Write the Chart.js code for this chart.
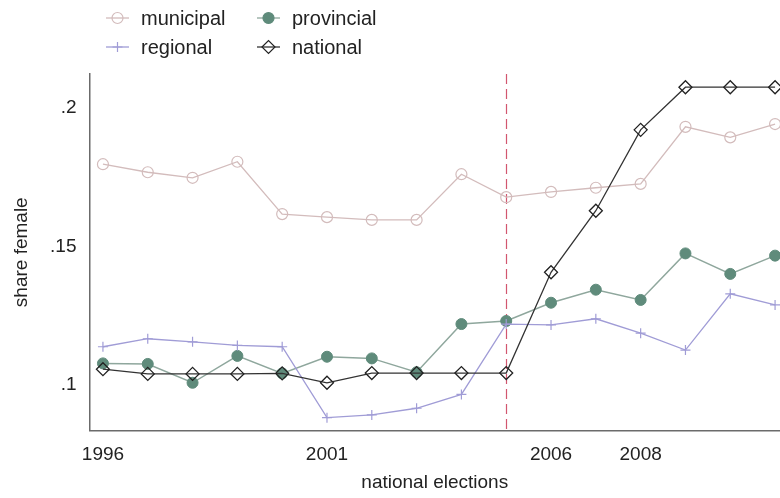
<!DOCTYPE html>
<html>
<head>
<meta charset="utf-8">
<title>share female</title>
<script src="https://cdn.jsdelivr.net/npm/chart.js@4.4.1/dist/chart.umd.min.js"></script>
<style>
  body { margin: 0; background: #fff; }
  #wrap { width: 780px; height: 498px; }
</style>
</head>
<body>
<div id="wrap"><canvas id="shareChart" width="780" height="498"></canvas></div>
<script>
const years = [1996, 1997, 1998, 1999, 2000, 2001, 2002, 2003, 2004, 2005, 2006, 2007, 2008, 2009, 2010, 2011];
const electionYears = [1996, 2001, 2006, 2008];
const yTicks = [0.1, 0.15, 0.2];
const cutoffYear = 2005;

const municipal = [0.1797, 0.1768, 0.1748, 0.1806, 0.1617, 0.1606, 0.1596, 0.1596, 0.1761, 0.1678, 0.1697, 0.1712, 0.1726, 0.1932, 0.1894, 0.1942];
const provincial = [0.1078, 0.1076, 0.1008, 0.1105, 0.1042, 0.1102, 0.1096, 0.1046, 0.1220, 0.1231, 0.1297, 0.1344, 0.1307, 0.1475, 0.1401, 0.1467];
const regional = [0.1138, 0.1167, 0.1156, 0.1143, 0.1138, 0.0882, 0.0892, 0.0916, 0.0966, 0.1220, 0.1217, 0.1239, 0.1187, 0.1126, 0.1329, 0.1289];
const national = [0.1057, 0.1040, 0.1040, 0.1040, 0.1042, 0.1008, 0.1043, 0.1043, 0.1043, 0.1043, 0.1407, 0.1629, 0.1921, 0.2075, 0.2075, 0.2075];

const FONT = "'Liberation Sans', Arial, Helvetica, sans-serif";

function toPoints(values) {
    return values.map((v, i) => ({ x: years[i], y: v }));
}

// legend entries in the two-column layout (row-major)
const legendItems = [
    { label: "municipal",  color: "#d3bcbc", line: "#d3bcbc", style: "circle",  radius: 5.5, fill: "rgba(0,0,0,0)", col: 0, row: 0 },
    { label: "provincial", color: "#5f8b7b", line: "#8fa79d", style: "circle",  radius: 5.5, fill: "#5f8b7b",       col: 1, row: 0 },
    { label: "regional",   color: "#a09cd6", line: "#a09cd6", style: "cross",   radius: 5,   fill: "rgba(0,0,0,0)", col: 0, row: 1 },
    { label: "national",   color: "#222222", line: "#333333", style: "rectRot", radius: 6.5, fill: "rgba(0,0,0,0)", col: 1, row: 1 }
];

const twoColLegend = {
    id: 'twoColLegend',
    afterDraw(chart) {
        const ctx = chart.ctx;
        const colX = [106, 257];
        const rowY = [18, 47];
        ctx.save();
        legendItems.forEach(item => {
            const x0 = colX[item.col];
            const y = rowY[item.row];
            ctx.strokeStyle = item.line;
            ctx.lineWidth = 1.3;
            ctx.beginPath();
            ctx.moveTo(x0, y);
            ctx.lineTo(x0 + 23, y);
            ctx.stroke();
            ctx.strokeStyle = item.color;
            ctx.fillStyle = item.fill;
            ctx.lineWidth = 1.2;
            Chart.helpers.drawPoint(ctx, { pointStyle: item.style, radius: item.radius, rotation: 0, borderWidth: 1.2 }, x0 + 11.5, y);
            ctx.fillStyle = "#222";
            ctx.font = "20px " + FONT;
            ctx.textBaseline = "middle";
            ctx.textAlign = "left";
            ctx.fillText(item.label, x0 + 35, y + 1);
        });
        ctx.restore();
    }
};

// dashed vertical reference line
const cutoffLine = {
    id: 'cutoffLine',
    beforeDatasetsDraw(chart) {
        const ctx = chart.ctx;
        const x = Math.round(chart.scales.x.getPixelForValue(cutoffYear)) + 0.5;
        const area = chart.chartArea;
        ctx.save();
        ctx.strokeStyle = "#d2566f";
        ctx.lineWidth = 1.2;
        ctx.setLineDash([10, 5]);
        ctx.beginPath();
        ctx.moveTo(x, area.top);
        ctx.lineTo(x, area.bottom);
        ctx.stroke();
        ctx.restore();
    }
};

const ctx = document.getElementById("shareChart").getContext('2d');
const shareChart = new Chart(ctx, {
    type: 'line',
    data: {
        datasets: [
            {
                label: "national",
                data: toPoints(national),
                borderColor: "#333333",
                borderWidth: 1.3,
                pointStyle: 'rectRot',
                pointRadius: 6.5,
                pointBorderColor: "#222222",
                pointBackgroundColor: "rgba(0,0,0,0)",
                pointBorderWidth: 1.3
            },
            {
                label: "regional",
                data: toPoints(regional),
                borderColor: "#a09cd6",
                borderWidth: 1.3,
                pointStyle: 'cross',
                pointRadius: 5,
                pointBorderColor: "#a09cd6",
                pointBorderWidth: 1.2
            },
            {
                label: "provincial",
                data: toPoints(provincial),
                borderColor: "#8fa79d",
                borderWidth: 1.5,
                pointStyle: 'circle',
                pointRadius: 5.5,
                pointBorderColor: "#5f8b7b",
                pointBackgroundColor: "#5f8b7b",
                pointBorderWidth: 1
            },
            {
                label: "municipal",
                data: toPoints(municipal),
                borderColor: "#d3bcbc",
                borderWidth: 1.3,
                pointStyle: 'circle',
                pointRadius: 5.5,
                pointBorderColor: "#d3bcbc",
                pointBackgroundColor: "rgba(0,0,0,0)",
                pointBorderWidth: 1.2
            }
        ]
    },
    options: {
        responsive: false,
        animation: false,
        layout: { autoPadding: false, padding: { top: 74, left: 0, right: 0, bottom: 0 } },
        elements: { line: { tension: 0, fill: false } },
        plugins: {
            legend: { display: false },
            tooltip: { enabled: false }
        },
        scales: {
            x: {
                type: 'linear',
                min: 1995.7,
                max: 2011.11,
                grid: { display: false, drawTicks: false },
                border: { display: true, color: "#6b6b6b", width: 1.5 },
                afterBuildTicks: scale => { scale.ticks = electionYears.map(v => ({ value: v })); },
                afterFit: scale => { scale.height = 67.5; },
                ticks: {
                    padding: 13,
                    color: "#222",
                    font: { family: FONT, size: 19 },
                    callback: v => String(v)
                },
                title: {
                    display: true,
                    text: "national elections",
                    color: "#222",
                    font: { family: FONT, size: 19 },
                    padding: { top: 0, bottom: 4 }
                }
            },
            y: {
                type: 'linear',
                min: 0.08357,
                max: 0.21227,
                grid: { display: false, drawTicks: false },
                border: { display: true, color: "#6b6b6b", width: 1.5 },
                afterBuildTicks: scale => { scale.ticks = yTicks.map(v => ({ value: v })); },
                afterFit: scale => { scale.width = 89.5; },
                ticks: {
                    padding: 13,
                    color: "#222",
                    font: { family: FONT, size: 19 },
                    callback: v => String(v).replace(/^0/, '')
                },
                title: {
                    display: true,
                    text: "share female",
                    color: "#222",
                    font: { family: FONT, size: 19 },
                    padding: { top: 10, bottom: 0 }
                }
            }
        }
    },
    plugins: [cutoffLine, twoColLegend]
});
</script>
</body>
</html>
